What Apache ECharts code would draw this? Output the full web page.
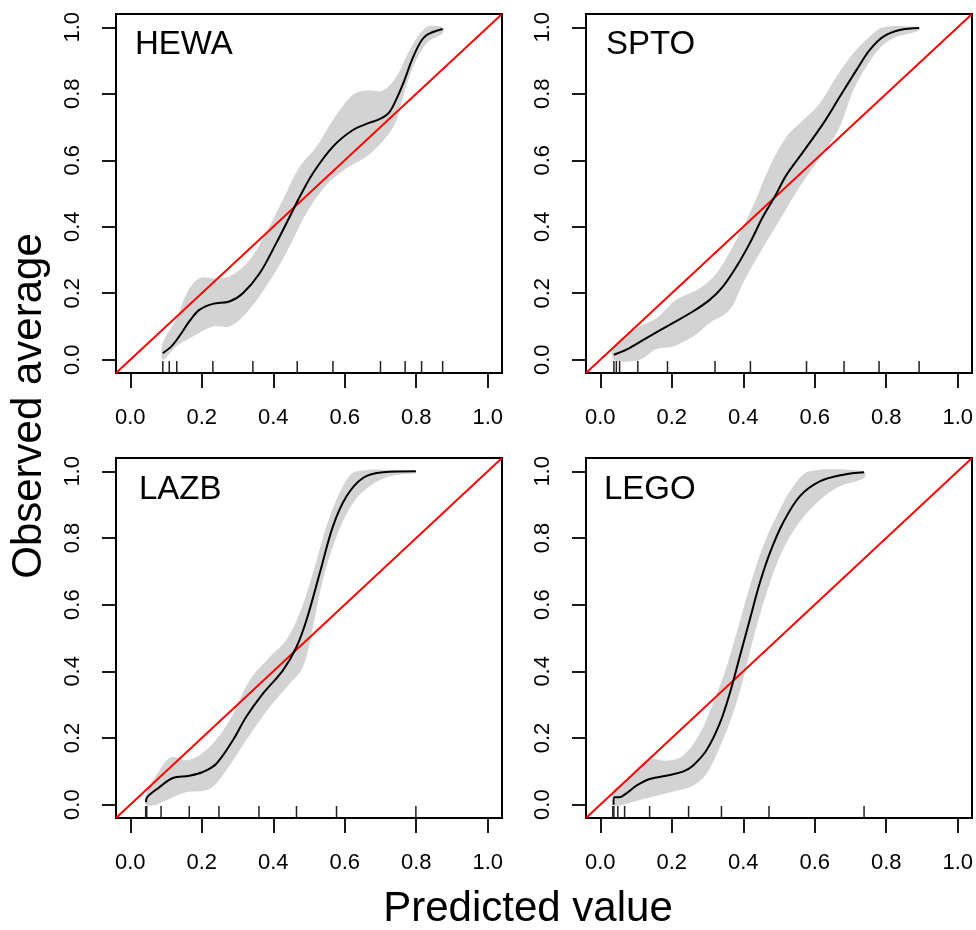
<!DOCTYPE html>
<html>
<head>
<meta charset="utf-8">
<script src="https://cdn.jsdelivr.net/npm/echarts@6/dist/echarts.min.js"></script>
<style>
  html, body { margin: 0; padding: 0; background: #fff; }
  #chart { width: 976px; height: 930px; }
</style>
</head>
<body>
<div id="chart"></div>
<script>
// panel names
const panels = ["HEWA", "SPTO", "LAZB", "LEGO"];
const tickValues = [0, 0.2, 0.4, 0.6, 0.8, 1.0];
const axisRange = [-0.04, 1.04];

// HEWA
const hewaCurve = [[0.091,0.020],[0.115,0.040],[0.140,0.075],[0.165,0.115],[0.193,0.150],[0.231,0.168],[0.277,0.175],[0.315,0.200],[0.362,0.260],[0.408,0.350],[0.446,0.430],[0.474,0.490],[0.511,0.561],[0.567,0.641],[0.623,0.691],[0.670,0.713],[0.700,0.725],[0.725,0.745],[0.745,0.785],[0.765,0.835],[0.792,0.912],[0.824,0.972],[0.874,0.995]];
const hewaUpper = [[0.091,0.050],[0.128,0.120],[0.158,0.200],[0.193,0.245],[0.231,0.245],[0.277,0.250],[0.334,0.300],[0.380,0.381],[0.427,0.481],[0.474,0.581],[0.521,0.641],[0.567,0.721],[0.623,0.797],[0.661,0.810],[0.707,0.810],[0.745,0.852],[0.782,0.932],[0.829,1.000],[0.874,1.000]];
const hewaLower = [[0.091,0.000],[0.128,0.040],[0.175,0.070],[0.231,0.100],[0.277,0.100],[0.324,0.140],[0.380,0.220],[0.436,0.320],[0.493,0.441],[0.549,0.526],[0.605,0.576],[0.661,0.611],[0.717,0.671],[0.745,0.721],[0.763,0.791],[0.792,0.882],[0.829,0.952],[0.874,0.982]];
const hewaRug = [0.091,0.109,0.130,0.231,0.343,0.467,0.567,0.700,0.769,0.815,0.874];

// SPTO
const sptoCurve = [[0.038,0.015],[0.073,0.030],[0.129,0.065],[0.194,0.105],[0.259,0.145],[0.306,0.180],[0.343,0.220],[0.381,0.280],[0.418,0.350],[0.455,0.430],[0.488,0.490],[0.521,0.556],[0.568,0.626],[0.624,0.711],[0.670,0.791],[0.717,0.872],[0.754,0.932],[0.792,0.972],[0.838,0.992],[0.892,0.998]];
const sptoUpper = [[0.038,0.040],[0.101,0.095],[0.157,0.125],[0.213,0.180],[0.278,0.215],[0.325,0.260],[0.381,0.361],[0.427,0.461],[0.474,0.581],[0.521,0.671],[0.568,0.721],[0.614,0.771],[0.661,0.852],[0.708,0.922],[0.754,0.972],[0.792,1.000],[0.892,1.000]];
const sptoLower = [[0.038,0.000],[0.110,0.000],[0.157,0.032],[0.203,0.040],[0.259,0.070],[0.306,0.110],[0.362,0.150],[0.399,0.230],[0.446,0.320],[0.502,0.420],[0.558,0.521],[0.624,0.621],[0.670,0.701],[0.708,0.811],[0.745,0.882],[0.782,0.937],[0.820,0.967],[0.892,0.990]];
const sptoRug = [0.038,0.045,0.054,0.105,0.188,0.321,0.420,0.577,0.682,0.780,0.892];

// LAZB
const lazbCurve = [[0.044,0.007],[0.047,0.022],[0.081,0.052],[0.119,0.080],[0.165,0.087],[0.203,0.098],[0.240,0.122],[0.287,0.193],[0.324,0.263],[0.371,0.333],[0.427,0.403],[0.465,0.473],[0.493,0.554],[0.530,0.694],[0.567,0.835],[0.605,0.925],[0.651,0.980],[0.707,0.997],[0.799,1.000]];
const lazbUpper = [[0.044,0.032],[0.081,0.102],[0.114,0.142],[0.165,0.134],[0.221,0.172],[0.278,0.253],[0.334,0.373],[0.390,0.443],[0.436,0.494],[0.474,0.574],[0.511,0.694],[0.549,0.835],[0.595,0.955],[0.633,1.000],[0.799,1.000]];
const lazbLower = [[0.044,0.000],[0.072,0.000],[0.119,0.022],[0.156,0.037],[0.221,0.047],[0.268,0.102],[0.324,0.193],[0.390,0.293],[0.446,0.363],[0.483,0.413],[0.511,0.534],[0.539,0.674],[0.577,0.804],[0.623,0.905],[0.670,0.955],[0.726,0.985],[0.799,0.995]];
const lazbRug = [0.043,0.046,0.086,0.165,0.248,0.360,0.465,0.577,0.799];

// LEGO
const legoCurve = [[0.037,0.000],[0.040,0.022],[0.052,0.022],[0.073,0.034],[0.101,0.057],[0.138,0.077],[0.194,0.089],[0.231,0.099],[0.259,0.117],[0.297,0.163],[0.334,0.243],[0.362,0.333],[0.390,0.443],[0.418,0.554],[0.446,0.664],[0.474,0.754],[0.511,0.845],[0.558,0.925],[0.614,0.970],[0.680,0.990],[0.738,0.997]];
const legoUpper = [[0.037,0.042],[0.073,0.072],[0.110,0.117],[0.138,0.137],[0.185,0.132],[0.231,0.147],[0.278,0.213],[0.315,0.303],[0.353,0.413],[0.381,0.514],[0.418,0.654],[0.455,0.774],[0.493,0.865],[0.540,0.955],[0.586,1.000],[0.738,1.000]];
const legoLower = [[0.037,0.000],[0.063,0.000],[0.110,0.014],[0.157,0.027],[0.213,0.042],[0.259,0.057],[0.297,0.092],[0.334,0.172],[0.371,0.273],[0.399,0.373],[0.427,0.494],[0.465,0.634],[0.502,0.744],[0.549,0.835],[0.605,0.905],[0.670,0.955],[0.738,0.980]];
const legoRug = [0.035,0.038,0.049,0.068,0.138,0.247,0.339,0.472,0.738];

const curves = [hewaCurve, sptoCurve, lazbCurve, legoCurve];
const uppers = [hewaUpper, sptoUpper, lazbUpper, legoUpper];
const lowers = [hewaLower, sptoLower, lazbLower, legoLower];
const rugs = [hewaRug, sptoRug, lazbRug, legoRug];

const fontFamily = "Liberation Sans, Arial, Helvetica, sans-serif";
const gridPos = [
  { left: 116, top: 14, width: 386, height: 359 },
  { left: 586, top: 14, width: 386, height: 359 },
  { left: 116, top: 458, width: 386, height: 360 },
  { left: 586, top: 458, width: 386, height: 360 },
];
const titlePos = [[135, 45], [606, 45], [139, 490], [604, 490]];

let chart = echarts.init(document.getElementById("chart"), null, { renderer: "canvas" });

function makeAxis(i, isY) {
  let ax = {
    type: "value",
    gridIndex: i,
    min: axisRange[0],
    max: axisRange[1],
    axisLine: { show: false, onZero: false },
    axisTick: {
      show: true,
      inside: false,
      customValues: tickValues,
      length: isY ? 14 : 15,
      lineStyle: { color: "#000", width: 1.8 },
    },
    axisLabel: {
      customValues: tickValues,
      formatter: (v) => v.toFixed(1),
      fontSize: 22,
      color: "#000",
      fontFamily: fontFamily,
      margin: isY ? 32 : 34,
    },
    splitLine: { show: false },
  };
  if (isY) ax.axisLabel.rotate = 90;
  return ax;
}

let grids = [], xAxes = [], yAxes = [], series = [], graphics = [];
panels.forEach((name, i) => {
  grids.push(Object.assign({ show: true, borderColor: "#000", borderWidth: 2, backgroundColor: "transparent" }, gridPos[i]));
  xAxes.push(makeAxis(i, false));
  yAxes.push(makeAxis(i, true));

  // confidence band
  const up = uppers[i], lo = lowers[i];
  series.push({
    type: "custom",
    xAxisIndex: i,
    yAxisIndex: i,
    data: [[up[0][0], up[0][1]]],
    z: 1,
    silent: true,
    renderItem: (params, api) => {
      const pts = up.map((p) => api.coord(p)).concat(lo.slice().reverse().map((p) => api.coord(p)));
      return {
        type: "polygon",
        shape: { points: pts, smooth: 0.35 },
        style: { fill: "#D3D3D3", stroke: null },
      };
    },
  });

  // diagonal
  series.push({
    type: "line",
    xAxisIndex: i,
    yAxisIndex: i,
    data: axisRange.map((v) => [v, v]),
    showSymbol: false,
    lineStyle: { color: "#FF0000", width: 1.9 },
    z: 3,
    silent: true,
  });

  // calibration curve
  series.push({
    type: "line",
    xAxisIndex: i,
    yAxisIndex: i,
    data: curves[i],
    smooth: 0.35,
    showSymbol: false,
    lineStyle: { color: "#000", width: 2 },
    z: 4,
    silent: true,
  });

  // rug
  series.push({
    type: "custom",
    xAxisIndex: i,
    yAxisIndex: i,
    data: rugs[i].map((x) => [x, axisRange[0]]),
    z: 5,
    silent: true,
    renderItem: (params, api) => {
      const p = api.coord([api.value(0), api.value(1)]);
      return {
        type: "line",
        shape: { x1: p[0], y1: p[1], x2: p[0], y2: p[1] - 12 },
        style: { stroke: "#222", lineWidth: 1.5 },
      };
    },
  });

  graphics.push({
    type: "text",
    left: titlePos[i][0],
    top: titlePos[i][1] - 17,
    style: { text: name, fontSize: 33, fill: "#000", fontFamily: fontFamily },
  });
});

graphics.push({
  type: "text",
  x: 29,
  y: 406,
  rotation: Math.PI / 2,
  style: { text: "Observed average", fontSize: 42, fill: "#000", fontFamily: fontFamily, align: "center", verticalAlign: "middle" },
});
graphics.push({
  type: "text",
  x: 528,
  y: 909,
  style: { text: "Predicted value", fontSize: 42, fill: "#000", fontFamily: fontFamily, align: "center", verticalAlign: "middle" },
});

let option = {
  animation: false,
  backgroundColor: "#fff",
  grid: grids,
  xAxis: xAxes,
  yAxis: yAxes,
  series: series,
  graphic: graphics,
};
chart.setOption(option);
</script>
</body>
</html>
